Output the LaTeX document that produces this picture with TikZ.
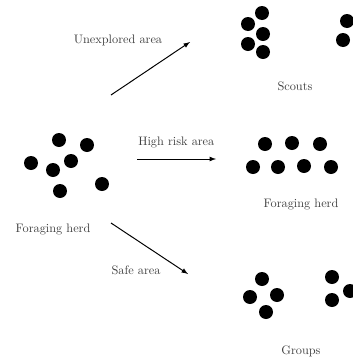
\documentclass[tikz,border=0pt]{standalone}
\usetikzlibrary{arrows}

\begin{document}
\begin{tikzpicture}[x=0.813pt, y=-0.813pt, >=latex,
  lbl/.style={text=black!75},
  move/.style={->, thick}]
  \useasboundingbox (0,0) rectangle (353,358);
  % Foraging herd (left)
  \foreach \x/\y in {59/140, 87/145, 31/163, 53/170, 71/161, 60/191, 102/184}
    \fill (\x,\y) circle (7);
  \node[lbl] (herd) at (53,229) {Foraging herd};
  % Scouts
  \foreach \x/\y in {262/13, 248/24, 263/34, 248/44, 263/52, 347/21, 343/40}
    \fill (\x,\y) circle (7);
  \node[lbl] (scouts) at (295,86) {Scouts};
  % Foraging herd (right)
  \foreach \x/\y in {265/144, 292/143, 320/144, 253/167, 278/167, 304/166, 331/167}
    \fill (\x,\y) circle (7);
  \node[lbl] (herd2) at (301,204) {Foraging herd};
  % Groups
  \foreach \x/\y in {262/279, 250/297, 277/295, 266/312, 332/277, 332/300, 350/291}
    \fill (\x,\y) circle (7);
  \node[lbl] (groups) at (301,351) {Groups};
  % Arrows
  \coordinate (u0) at (111,95);
  \coordinate (u1) at (190,42);
  \coordinate (h0) at (137,159);
  \coordinate (h1) at (216,159);
  \coordinate (s0) at (111,223);
  \coordinate (s1) at (188,274);
  \draw[move] (u0) -- (u1);
  \draw[move] (h0) -- (h1);
  \draw[move] (s0) -- (s1);
  \node[lbl] (unexp) at (118,40) {Unexplored area};
  \node[lbl, anchor=west] (risk) at (134,142) {High risk area};
  \node[lbl] (safe) at (136,270) {Safe area};
\end{tikzpicture}
\end{document}
